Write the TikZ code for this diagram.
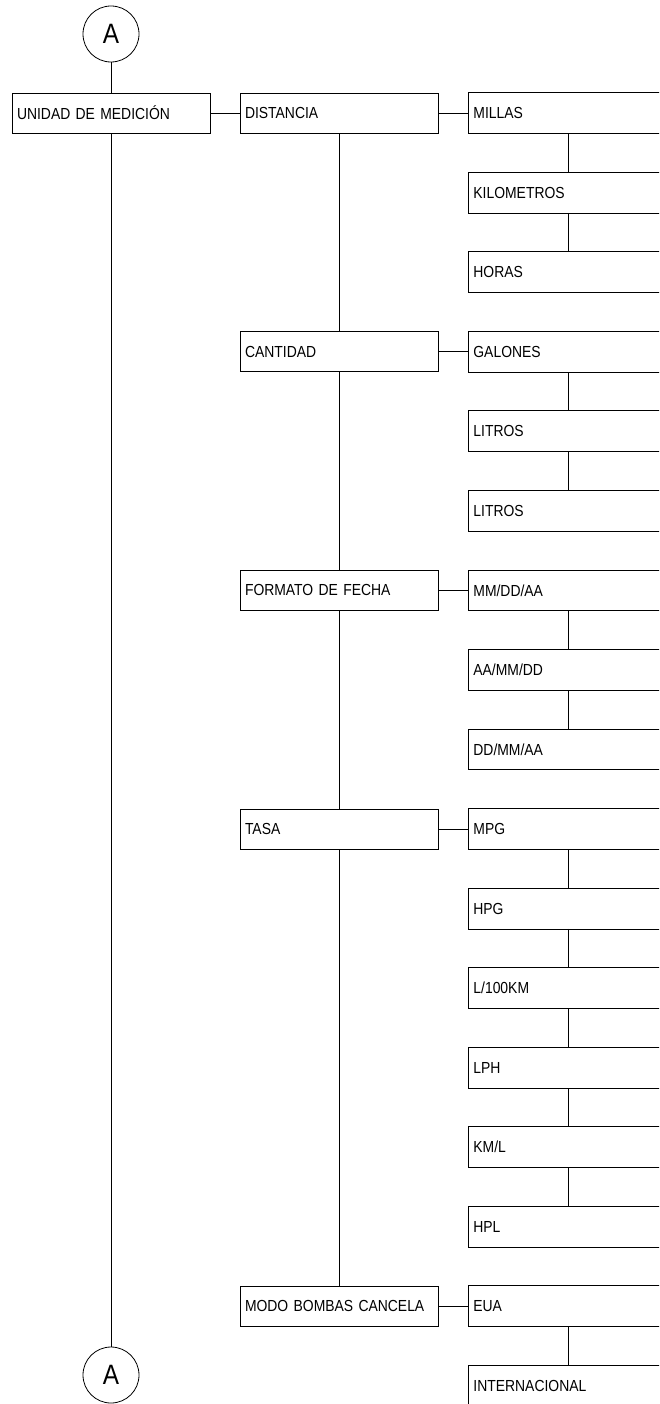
\documentclass[tikz,border=0pt]{standalone}
\usepackage{fontspec}
\usetikzlibrary{calc}
\setmainfont[FakeStretch=0.87]{Liberation Sans}
\begin{document}
\begin{tikzpicture}[x=1pt,y=-1pt,line width=0.8pt,
  box/.style={draw,rectangle,minimum height=40pt,text width=188pt,inner xsep=5pt,inner ysep=0pt,align=left,font=\fontsize{16}{18}\selectfont},
  leaf/.style={box,draw=none,text width=250pt,anchor=west},
  conn/.style={draw,circle,minimum size=56pt,inner sep=0pt,font=\fontsize{28}{30}\selectfont},
  link/.style={draw}]
\useasboundingbox (0,0) rectangle (659,1404);
\clip (0,0) rectangle (659,1404);
% column 1
\node[conn] (atop) at (111,34) {A};
\node[box] (u) at (111,113) {UNIDAD DE MEDICIÓN};
\node[conn] (abot) at (111,1375) {A};
% column 2
\node[box] (dist) at (339,113) {DISTANCIA};
\node[box] (cant) at (339,351.65) {CANTIDAD};
\node[box] (fmt) at (339,590.3) {FORMATO DE FECHA};
\node[box] (tasa) at (339,828.95) {TASA};
\node[box] (modo) at (339,1306.25) {MODO BOMBAS CANCELA};
% column 3
\node[leaf] (mil) at (468,113) {MILLAS};
\node[leaf] (km) at (468,192.55) {KILOMETROS};
\node[leaf] (hor) at (468,272.1) {HORAS};
\node[leaf] (gal) at (468,351.65) {GALONES};
\node[leaf] (lit1) at (468,431.2) {LITROS};
\node[leaf] (lit2) at (468,510.75) {LITROS};
\node[leaf] (f1) at (468,590.3) {MM/DD/AA};
\node[leaf] (f2) at (468,669.85) {AA/MM/DD};
\node[leaf] (f3) at (468,749.4) {DD/MM/AA};
\node[leaf] (mpg) at (468,828.95) {MPG};
\node[leaf] (hpg) at (468,908.5) {HPG};
\node[leaf] (l100) at (468,988.05) {L/100KM};
\node[leaf] (lph) at (468,1067.6) {LPH};
\node[leaf] (kml) at (468,1147.15) {KM/L};
\node[leaf] (hpl) at (468,1226.7) {HPL};
\node[leaf] (eua) at (468,1306.25) {EUA};
\node[leaf] (int) at (468,1385.8) {INTERNACIONAL};
\foreach \n in {mil,km,hor,gal,lit1,lit2,f1,f2,f3,mpg,hpg,l100,lph,kml,hpl,eua,int}
  \draw (\n.north east) -- (\n.north west) -- (\n.south west) -- (\n.south east);
% connectors column 1
\draw[link] (atop) -- (u);
\draw[link] (u) -- (abot);
\draw[link] (u) -- (dist);
% column 2
\draw[link] (dist) -- (cant);
\draw[link] (cant) -- (fmt);
\draw[link] (fmt) -- (tasa);
\draw[link] (tasa) -- (modo);
\draw[link] (dist) -- (mil);
\draw[link] (cant) -- (gal);
\draw[link] (fmt) -- (f1);
\draw[link] (tasa) -- (mpg);
\draw[link] (modo) -- (eua);
% column 3
\foreach \a/\b in {mil/km,km/hor,gal/lit1,lit1/lit2,f1/f2,f2/f3,mpg/hpg,hpg/l100,l100/lph,lph/kml,kml/hpl,eua/int}
  \draw[link] ($(\a.south west)+(100,0)$) -- ($(\b.north west)+(100,0)$);
\end{tikzpicture}
\end{document}
